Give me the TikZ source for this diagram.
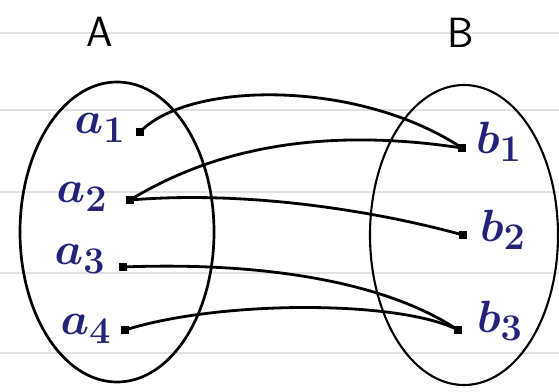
\documentclass[tikz,border=0pt]{standalone}
\usetikzlibrary{shapes.geometric}
\definecolor{ink}{RGB}{35,35,120}
\definecolor{ruled}{RGB}{225,225,225}
\begin{document}
\begin{tikzpicture}[x=0.03cm,y=-0.03cm,
  setbox/.style={draw=black,ellipse,inner sep=0pt,line width=2.3pt},
  elem/.style={text=ink,font=\Huge\boldmath,scale=1.55,inner sep=0pt},
  setname/.style={text=black,font=\Huge\sffamily,scale=1.45,inner sep=0pt},
  dot/.style={fill=black,rectangle,minimum size=6pt,inner sep=0pt},
  link/.style={line width=2.4pt,black,line cap=round},
  ruleline/.style={ruled,line width=1pt}]
\useasboundingbox (0,0) rectangle (559,391);
\fill[white] (0,0) rectangle (559,391);
% ruled paper
\foreach \yy in {33,110,192,273,353}
  \draw[ruleline] (0,\yy) -- (559,\yy);
% sets
\node[setbox,minimum width=5.82cm,minimum height=9cm] (SA) at (117,232) {};
\node[setbox,line width=1.8pt,minimum width=5.64cm,minimum height=9cm] (SB) at (464,235) {};
\node[setname] (LA) at (100,32) {A};
\node[setname] (LB) at (461,33) {B};
% element labels
\node[elem] (ta1) at (100,128) {$a_1$};
\node[elem] (ta2) at (82,197) {$a_2$};
\node[elem] (ta3) at (80,259) {$a_3$};
\node[elem] (ta4) at (86,329) {$a_4$};
\node[elem] (tb1) at (499,142) {$b_1$};
\node[elem] (tb2) at (503,230) {$b_2$};
\node[elem] (tb3) at (500,321) {$b_3$};
% points
\node[dot] (a1) at (140,132) {};
\node[dot] (a2) at (130,200) {};
\node[dot] (a3) at (123,267) {};
\node[dot] (a4) at (125,330) {};
\node[dot] (b1) at (462,148) {};
\node[dot] (b2) at (463,235) {};
\node[dot] (b3) at (458,330) {};
% mapping
\draw[link] (a1.center) .. controls (190,80) and (360,80) .. (b1.center);
\draw[link] (a2.center) .. controls (220,145) and (330,128) .. (b1.center);
\draw[link] (a2.center) .. controls (250,190) and (380,212) .. (b2.center);
\draw[link] (a3.center) .. controls (250,262) and (380,278) .. (b3.center);
\draw[link] (a4.center) .. controls (220,300) and (400,300) .. (b3.center);
\end{tikzpicture}
\end{document}
